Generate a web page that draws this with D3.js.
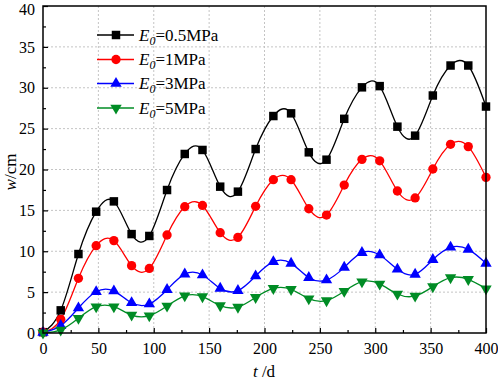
<!DOCTYPE html>
<html>
<head>
<meta charset="utf-8">
<script src="https://cdn.jsdelivr.net/npm/d3@7"></script>
<style>
  html,body{margin:0;padding:0;background:#fff;}
  svg{display:block;}
  svg text{font-family:"Liberation Serif","Times New Roman","DejaVu Serif",serif !important;}
</style>
</head>
<body>
<svg id="chart" width="498" height="381"></svg>
<script>
// ===== data =====
const days = [0,16,32,48,64,80,96,112,128,144,160,176,192,208,224,240,256,272,288,304,320,336,352,368,384,400];
const w05 = [0.1,2.77,9.66,14.84,16.1,12.1,11.87,17.49,21.9,22.39,17.9,17.29,22.5,26.54,26.87,22.1,21.2,26.2,30.05,30.2,25.24,24.14,29.05,32.72,32.72,27.7];
const w1  = [0.1,1.67,6.69,10.68,11.3,8.24,7.9,11.99,15.45,15.6,12.27,11.7,15.5,18.75,18.75,15.2,14.43,18.1,21.24,21.06,17.37,16.52,20.06,23.08,22.8,19.04];
const w3  = [0.05,0.9,3.06,5.05,5.13,3.7,3.55,5.3,7.2,7.1,5.46,5.18,6.97,8.72,8.52,6.77,6.48,8.03,9.83,9.54,7.79,7.17,8.97,10.48,10.23,8.52];
const w5  = [0.02,0.37,1.8,3.22,3.22,2.2,2.12,3.3,4.55,4.45,3.35,3.17,4.36,5.46,5.34,4.2,3.96,5.1,6.28,6.0,4.77,4.53,5.67,6.77,6.56,5.42];
const seriesNames = ["0.5MPa","1MPa","3MPa","5MPa"];
const xTicks = [0,50,100,150,200,250,300,350,400];
const yTicks = [0,5,10,15,20,25,30,35,40];

// ===== setup =====
const FONT = "'Liberation Serif','Times New Roman','DejaVu Serif',serif";
const svg = d3.select("#chart").attr("font-family",FONT);
const M = {left:43, right:486, top:6, bottom:333};

const x = d3.scaleLinear().domain([0,400]).range([M.left, M.right]);
const y = d3.scaleLinear().domain([0,40]).range([M.bottom, M.top]);

const series = [
  {name:seriesNames[0], vals:w05, color:"#000000", sym:d3.symbolSquare, size:72, rot:0},
  {name:seriesNames[1], vals:w1,  color:"#ff0000", sym:d3.symbolCircle, size:68, rot:0},
  {name:seriesNames[2], vals:w3,  color:"#0000ff", sym:d3.symbolTriangle, size:56, rot:0},
  {name:seriesNames[3], vals:w5,  color:"#008c25", sym:d3.symbolTriangle, size:56, rot:180}
];

// grid
const grid = svg.append("g");
grid.selectAll(".gx").data(xTicks.slice(1,-1)).join("line")
  .attr("x1",d=>x(d)).attr("x2",d=>x(d)).attr("y1",M.top).attr("y2",M.bottom)
  .attr("stroke","#c4c4c4").attr("stroke-width",1).attr("stroke-dasharray","2,2");
grid.selectAll(".gy").data(yTicks.slice(1,-1)).join("line")
  .attr("y1",d=>y(d)).attr("y2",d=>y(d)).attr("x1",M.left).attr("x2",M.right)
  .attr("stroke","#c4c4c4").attr("stroke-width",1).attr("stroke-dasharray","2,2");

// axes (ticks inward)
const xAxis = svg.append("g").attr("transform",`translate(0,${M.bottom})`)
  .call(d3.axisBottom(x).tickValues(xTicks).tickSize(-5).tickPadding(10).tickFormat(d3.format("d")));
const yAxis = svg.append("g").attr("transform",`translate(${M.left},0)`)
  .call(d3.axisLeft(y).tickValues(yTicks).tickSize(-5).tickPadding(8).tickFormat(d3.format("d")));
// minor ticks
svg.append("g").attr("transform",`translate(0,${M.bottom})`)
  .call(d3.axisBottom(x).tickValues(d3.range(25,400,50)).tickSize(-3).tickFormat(""));
svg.append("g").attr("transform",`translate(${M.left},0)`)
  .call(d3.axisLeft(y).tickValues(d3.range(2.5,40,5)).tickSize(-3).tickFormat(""));
svg.selectAll(".domain").remove();
svg.selectAll("g").attr("font-family",FONT);
svg.selectAll(".tick line").attr("stroke","#000").attr("stroke-width",1.2);
[xAxis,yAxis].forEach(a=>a.selectAll("text").attr("font-size","16px").attr("fill","#000"));
// keep top label inside the picture
yAxis.selectAll(".tick text").filter(d=>d===40).attr("dy","0.5em");

// lines
svg.append("clipPath").attr("id","clip").append("rect")
  .attr("x",M.left).attr("y",M.top).attr("width",M.right-M.left).attr("height",M.bottom-M.top);

const lineGen = d3.line().x((d,i)=>x(days[i])).y(d=>y(d)).curve(d3.curveNatural);
const plotG = svg.append("g");
series.forEach(s=>{
  plotG.append("path").attr("d",lineGen(s.vals)).attr("fill","none")
    .attr("stroke",s.color).attr("stroke-width",1.3).attr("clip-path","url(#clip)");
});
series.forEach(s=>{
  plotG.selectAll(null).data(s.vals).join("path")
    .attr("d",d3.symbol(s.sym,s.size))
    .attr("transform",(d,i)=>`translate(${x(days[i])},${y(d)}) rotate(${s.rot})`)
    .attr("fill",s.color);
});

// frame
svg.append("rect").attr("x",M.left).attr("y",M.top)
  .attr("width",M.right-M.left).attr("height",M.bottom-M.top)
  .attr("fill","none").attr("stroke","#000").attr("stroke-width",1.5);

// legend
const leg = svg.append("g");
const legY = [35,59.5,83.5,108];
series.forEach((s,i)=>{
  const g = leg.append("g").attr("transform",`translate(0,${legY[i]})`);
  g.append("line").attr("x1",97).attr("x2",134).attr("y1",0).attr("y2",0)
    .attr("stroke",s.color).attr("stroke-width",1.5);
  g.append("path").attr("d",d3.symbol(s.sym,s.size))
    .attr("transform",`translate(116,0) rotate(${s.rot})`).attr("fill",s.color);
  const t = g.append("text").attr("x",139).attr("y",5.5).attr("font-size","17px").attr("fill","#000");
  t.append("tspan").attr("font-style","italic").text("E");
  t.append("tspan").attr("font-style","italic").attr("font-size","12px").attr("dy",4).text("0");
  t.append("tspan").attr("dy",-4).text("=" + s.name);
});

// axis titles
const yt = svg.append("text").attr("transform","translate(16,172) rotate(-90)")
  .attr("text-anchor","middle").attr("font-size","17px").attr("fill","#000");
yt.append("tspan").attr("font-style","italic").text("w");
yt.append("tspan").text("/cm");

const xt = svg.append("text").attr("x",264).attr("y",377)
  .attr("text-anchor","middle").attr("font-size","17px").attr("fill","#000");
xt.append("tspan").attr("font-style","italic").text("t");
xt.append("tspan").text(" /d");
</script>
</body>
</html>
